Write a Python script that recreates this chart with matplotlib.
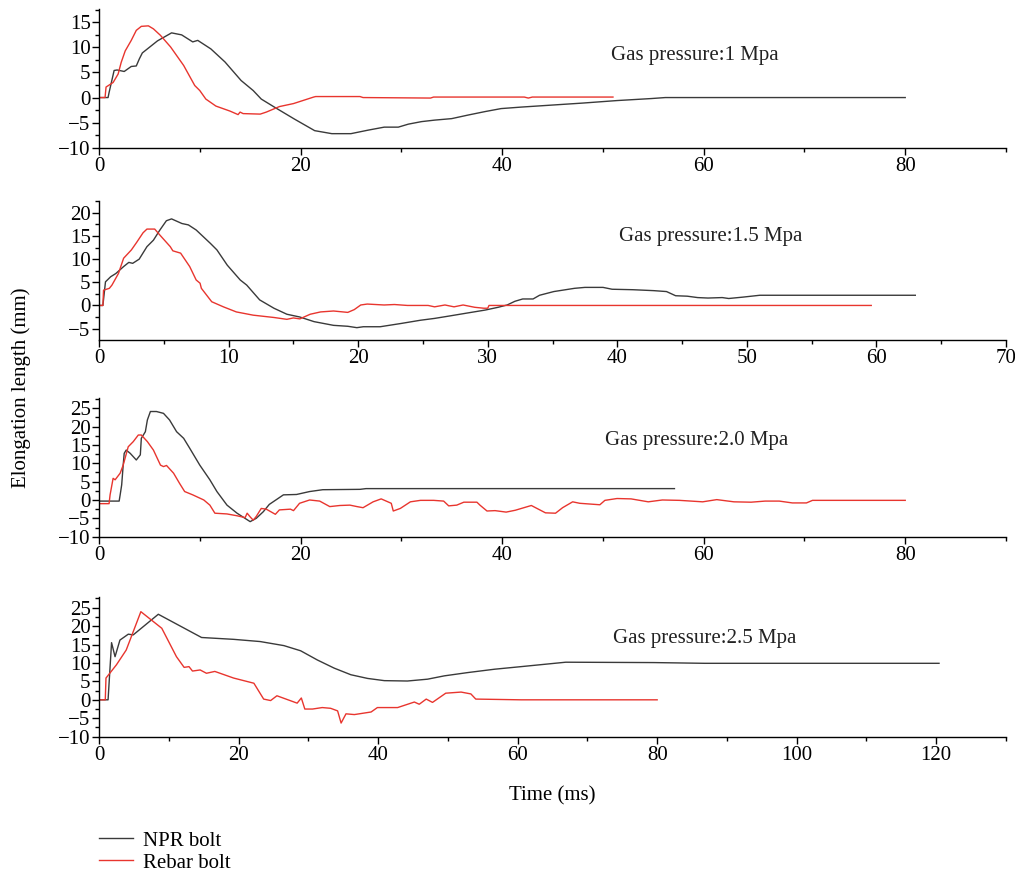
"""Bolt elongation under four gas pressures: NPR bolt vs rebar bolt."""

import matplotlib

matplotlib.use("Agg")
import matplotlib.pyplot as plt
from matplotlib.ticker import MultipleLocator

plt.rcParams["font.family"] = ["Liberation Serif", "DejaVu Serif"]

# ---- Data (time in ms, elongation in mm) -------------------------------
npr_t_10 = [0, 0.9, 1.0, 1.5, 1.8, 2.5, 3.2, 3.7, 4.0, 4.3, 5.8, 7.2, 8.2, 9.3,
            9.8, 11.1, 12.5, 14.1, 15.3, 16.1, 17.4, 19.4, 21.4, 23.1, 25.0,
            26.7, 28.3, 29.7, 30.7, 32.0, 33.3, 35.0, 36.6, 38.3, 39.9, 41.9,
            48.0, 51.4, 54.8, 56.2, 80.0]
npr_y_10 = [0, 0, 1.0, 5.4, 5.5, 5.2, 6.2, 6.3, 7.7, 8.9, 11.3, 12.9, 12.5, 11.1,
            11.4, 9.7, 7.1, 3.4, 1.4, -0.3, -1.9, -4.3, -6.6, -7.2, -7.2,
            -6.5, -5.9, -5.9, -5.3, -4.8, -4.5, -4.2, -3.5, -2.8, -2.2, -1.9,
            -1.1, -0.6, -0.2, 0, 0]
rebar_t_10 = [0, 0.6, 0.7, 1.4, 1.9, 2.2, 2.6, 3.2, 3.7, 4.2, 4.9, 5.4, 6.1, 7.1,
              8.4, 9.5, 10.0, 10.6, 11.6, 13.0, 13.8, 14.0, 14.3, 16.0, 16.6,
              17.9, 19.3, 21.3, 21.5, 25.9, 26.2, 32.9, 33.2, 42.2, 42.6, 43.0,
              51.0]
rebar_y_10 = [0, 0, 2.1, 3.0, 4.7, 7.0, 9.3, 11.4, 13.4, 14.2, 14.3, 13.7, 12.4,
              10.1, 6.4, 2.4, 1.4, -0.3, -1.7, -2.7, -3.4, -2.9, -3.2, -3.3,
              -2.9, -1.8, -1.2, 0.1, 0.2, 0.2, 0, -0.1, 0.1, 0.1, -0.1, 0.1,
              0.1]

npr_t_15 = [0, 0.3, 0.5, 0.9, 1.3, 1.9, 2.3, 2.6, 3.1, 3.7, 4.2, 4.7, 5.2, 5.6,
            6.4, 6.9, 7.5, 8.6, 9.1, 9.9, 10.9, 11.4, 12.4, 13.5, 14.5, 15.5,
            16.6, 18.1, 19.2, 19.9, 20.4, 21.7, 23.3, 24.8, 25.9, 27.0, 28.5,
            29.8, 30.8, 31.5, 32.1, 32.7, 33.5, 34.0, 35.1, 36.7, 37.5, 38.9,
            39.6, 41.2, 42.8, 43.8, 44.5, 45.4, 46.2, 47.0, 48.1, 48.6, 49.7,
            51.0, 63.0]
npr_y_15 = [0, 0, 5.1, 6.2, 6.9, 8.4, 9.3, 9.1, 10.0, 12.7, 14.1, 16.3, 18.3,
            18.7, 17.7, 17.4, 16.3, 13.4, 12.0, 8.7, 5.5, 4.4, 1.2, -0.6, -1.9,
            -2.5, -3.5, -4.3, -4.5, -4.8, -4.6, -4.6, -3.9, -3.2, -2.8, -2.3,
            -1.6, -1.0, -0.4, 0.1, 0.9, 1.4, 1.4, 2.2, 3.0, 3.7, 3.9, 3.9, 3.5,
            3.4, 3.2, 3.0, 2.1, 2.0, 1.7, 1.6, 1.7, 1.5, 1.8, 2.2, 2.2]
rebar_t_15 = [0, 0.3, 0.35, 0.8, 1.0, 1.5, 1.9, 2.5, 2.9, 3.4, 3.7, 4.3, 4.7,
              5.5, 5.7, 6.3, 7.0, 7.5, 7.8, 7.9, 8.7, 9.6, 10.6, 11.9, 13.5,
              14.5, 15.0, 15.5, 16.3, 17.1, 18.1, 19.2, 19.7, 20.2, 20.7, 22.0,
              22.8, 23.8, 25.4, 25.9, 26.7, 27.4, 28.1, 29.0, 29.7, 30.0, 30.1,
              59.6]
rebar_y_15 = [0, 0, 3.3, 3.7, 4.4, 6.9, 10.2, 12.0, 13.6, 15.7, 16.5, 16.5,
              15.2, 12.7, 11.8, 11.3, 8.4, 5.5, 4.8, 3.7, 0.8, -0.3, -1.4,
              -2.1, -2.6, -3.0, -2.7, -2.9, -1.9, -1.4, -1.2, -1.5, -0.9, 0.1,
              0.3, 0.1, 0.2, 0, 0, -0.3, 0.1, -0.3, 0.1, -0.4, -0.6, -0.6, 0,
              0]

npr_t_20 = [0, 2.0, 2.1, 2.25, 2.4, 2.5, 2.7, 3.1, 3.7, 4.1, 4.2, 4.6, 4.8, 5.1,
            5.7, 6.4, 7.0, 7.7, 8.4, 9.0, 10.0, 11.0, 11.7, 12.7, 13.7, 15.0,
            15.6, 16.3, 16.9, 18.3, 19.6, 20.9, 22.2, 25.9, 26.5, 57.1]
npr_y_20 = [-0.3, -0.3, 1.4, 4.1, 9.5, 12.7, 13.6, 12.7, 10.9, 12.3, 16.8, 18.6,
            21.8, 24.1, 24.1, 23.6, 21.8, 18.6, 16.8, 14.1, 9.5, 5.5, 2.3,
            -1.4, -3.6, -5.9, -5.0, -3.2, -1.2, 1.4, 1.5, 2.3, 2.8, 2.9, 3.1,
            3.1]
rebar_t_20 = [0, 1.0, 1.1, 1.4, 1.6, 2.1, 2.4, 2.9, 3.4, 3.9, 4.2, 4.8, 5.4, 6.1,
              6.4, 6.7, 7.4, 8.0, 8.5, 9.3, 10.4, 11.0, 11.5, 12.7, 13.7, 14.5,
              14.7, 15.0, 15.3, 15.6, 16.1, 16.6, 17.5, 17.9, 19.0, 19.3, 19.9,
              20.9, 21.9, 22.9, 23.9, 24.9, 25.6, 26.2, 27.2, 28.0, 29.0, 29.2,
              29.9, 30.9, 31.9, 33.2, 34.2, 34.7, 35.5, 36.2, 37.5, 37.8, 38.5,
              39.3, 40.4, 41.3, 42.9, 44.3, 45.3, 46.0, 47.0, 47.7, 49.7, 50.2,
              51.4, 52.8, 54.5, 55.9, 57.6, 59.9, 61.3, 63.0, 64.7, 66.1, 67.5,
              68.8, 70.2, 70.8, 80.0]
rebar_y_20 = [-1.0, -1.0, 1.4, 5.9, 5.5, 7.3, 9.5, 14.5, 15.9, 17.7, 17.7, 15.9,
              13.6, 9.5, 9.1, 9.4, 7.3, 4.5, 2.3, 1.4, 0, -1.4, -3.6, -3.8,
              -4.3, -4.8, -3.6, -4.6, -5.5, -4.5, -2.3, -2.5, -3.9, -2.7, -2.5,
              -2.9, -0.9, 0, -0.3, -1.8, -1.5, -1.4, -1.8, -2.1, -0.5, 0.3,
              -0.9, -3.0, -2.3, -0.5, -0.1, -0.1, -0.3, -1.6, -1.4, -0.6, -0.6,
              -1.4, -3.0, -2.9, -3.3, -2.8, -1.5, -3.5, -3.6, -2.1, -0.5, -0.9,
              -1.3, -0.1, 0.4, 0.3, -0.5, 0, -0.1, -0.5, 0.1, -0.5, -0.6, -0.3,
              -0.3, -0.8, -0.8, -0.1, -0.1]

npr_t_25 = [0, 1.3, 1.8, 2.3, 3.0, 4.2, 4.9, 8.5, 14.7, 19.3, 23.1, 26.5, 28.9,
            31.3, 33.7, 36.1, 38.5, 40.9, 44.2, 47.1, 49.5, 52.9, 56.7, 60.5,
            66.9, 79.5, 86.8, 120.4]
npr_y_25 = [0, 0, 15.5, 11.7, 16.2, 17.8, 17.6, 23.2, 16.9, 16.4, 15.8, 14.7,
            13.3, 10.8, 8.6, 6.8, 5.8, 5.2, 5.1, 5.6, 6.5, 7.4, 8.3, 9.0, 10.2,
            10.1, 9.9, 9.9]
rebar_t_25 = [0, 0.9, 1.0, 2.5, 3.9, 6.0, 9.0, 11.1, 12.2, 12.9, 13.4, 14.5,
              15.4, 16.6, 19.3, 22.2, 23.6, 24.6, 25.5, 28.4, 29.0, 29.5, 30.6,
              32.0, 33.2, 34.2, 34.7, 35.4, 36.6, 39.0, 39.9, 42.8, 45.2, 45.9,
              46.9, 47.8, 49.7, 51.9, 53.3, 54.0, 60.5, 80.0]
rebar_y_25 = [0, 0, 5.9, 9.5, 13.5, 23.9, 19.4, 11.7, 8.8, 9.0, 7.8, 8.1, 7.2,
              7.7, 5.9, 4.5, 0.2, -0.2, 1.1, -0.9, 0.5, -2.5, -2.5, -2.1, -2.3,
              -3.0, -6.3, -3.8, -4.0, -3.3, -2.1, -2.1, -0.6, -1.2, 0.2, -0.7,
              1.8, 2.1, 1.6, 0.2, 0, 0]

titles = ["Gas pressure:1 Mpa", "Gas pressure:1.5 Mpa",
          "Gas pressure:2.0 Mpa", "Gas pressure:2.5 Mpa"]

NPR_COLOR = "#3a3a3a"
REBAR_COLOR = "#e8352e"

# ---- Figure -------------------------------------------------------------
W, H = 1015, 871
fig = plt.figure(figsize=(W / 100, H / 100), dpi=100)


def _axes(top_px, bottom_px, left_px=99, right_px=1006):
    return fig.add_axes([left_px / W, 1 - bottom_px / H,
                         (right_px - left_px) / W, (bottom_px - top_px) / H])


panels = [
    # (top px, bottom px, xmax, x major, y range, text pos, data)
    (9.3, 147.7, 90, 20, (-10, 17.6), (50.8, 7.4),
     npr_t_10, npr_y_10, rebar_t_10, rebar_y_10),
    (201.3, 339.7, 70, 10, (-7.4, 22.5), (40.1, 14.0),
     npr_t_15, npr_y_15, rebar_t_15, rebar_y_15),
    (398.3, 536.7, 90, 20, (-10, 27.7), (50.2, 15.0),
     npr_t_20, npr_y_20, rebar_t_20, rebar_y_20),
    (597.3, 736.7, 130, 20, (-10, 27.8), (73.7, 15.4),
     npr_t_25, npr_y_25, rebar_t_25, rebar_y_25),
]

for i, (top, bot, xmax, xmaj, ylim, tpos, nt, ny, rt, ry) in enumerate(panels):
    ax = _axes(top, bot)
    ax.plot(nt, ny, color=NPR_COLOR, lw=1.0, label="NPR bolt")
    ax.plot(rt, ry, color=REBAR_COLOR, lw=1.0, label="Rebar bolt")
    ax.set_xlim(0, xmax)
    ax.set_ylim(*ylim)
    ax.xaxis.set_major_locator(MultipleLocator(xmaj))
    ax.xaxis.set_minor_locator(MultipleLocator(xmaj / 2))
    ax.yaxis.set_major_locator(MultipleLocator(5))
    ax.yaxis.set_minor_locator(MultipleLocator(2.5))
    for side in ("top", "right"):
        ax.spines[side].set_visible(False)
    for side in ("left", "bottom"):
        ax.spines[side].set_linewidth(1.0)
    ax.tick_params(which="major", direction="out", length=5, width=1.0,
                   labelsize=15, pad=2)
    ax.tick_params(which="minor", direction="out", length=3, width=1.0)
    ax.tick_params(axis="y", which="major", pad=1)
    ax.text(tpos[0], tpos[1], titles[i], fontsize=15, ha="left",
            va="baseline", color="#222222")
    if i == 0:
        handles, labels = ax.get_legend_handles_labels()

fig.text(552 / W, 1 - 800.5 / H, "Time (ms)", fontsize=15, ha="center",
         va="baseline")
fig.text(21 / W, 1 - 387.5 / H, "Elongation length (mm)", fontsize=15,
         rotation=90, ha="center", va="center")

fig.legend(handles, labels, loc="upper left",
           bbox_to_anchor=(99 / W, 1 - 831 / H), frameon=False, fontsize=15,
           borderpad=0, borderaxespad=0, handlelength=1.63,
           handletextpad=0.5, labelspacing=0.12)

fig.savefig("out.png", dpi=100)
